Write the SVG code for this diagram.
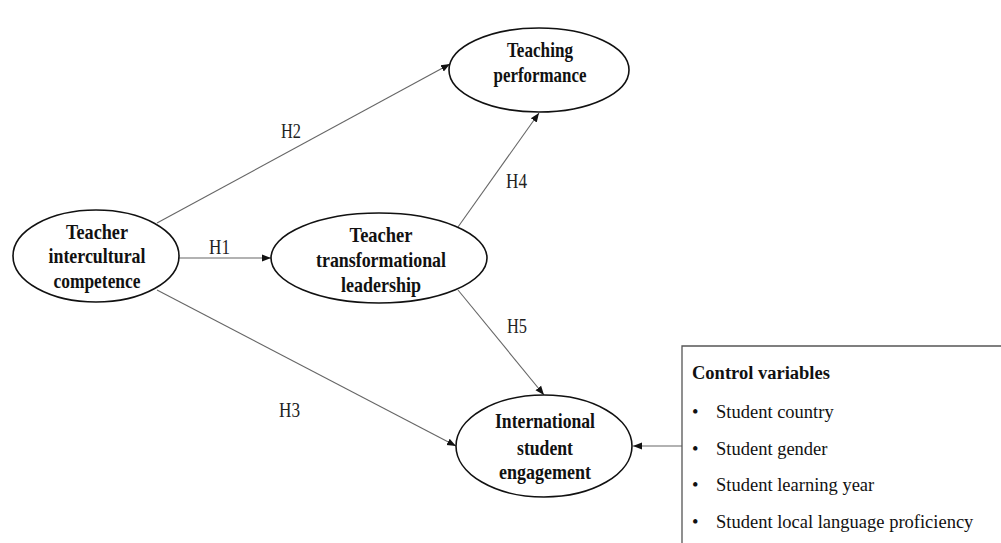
<svg xmlns="http://www.w3.org/2000/svg" width="1001" height="543" viewBox="0 0 1001 543">
<style>
.node ellipse{fill:#fff;stroke:#111;stroke-width:1.6}
.nt{font-family:"Liberation Serif","Times New Roman",serif;font-weight:bold;font-size:22px;fill:#111;text-anchor:middle}
.lbl{font-family:"Liberation Serif","Times New Roman",serif;font-size:20px;fill:#222}
.conn line{stroke:#666;stroke-width:1.1;fill:none}
.bx{font-family:"Liberation Serif","Times New Roman",serif;font-size:18.5px;fill:#111}
</style>
<defs>
<marker id="ah" viewBox="0 0 10 10" refX="10" refY="5" markerWidth="9" markerHeight="9" markerUnits="userSpaceOnUse" orient="auto">
<path d="M0,1 L10,5 L0,9 Z" fill="#111"/>
</marker>
</defs>
<rect width="1001" height="543" fill="#fff"/>
<g class="conn" id="connectors">
<line x1="179" y1="258" x2="271" y2="258" marker-end="url(#ah)"/>
<line x1="157" y1="223" x2="450" y2="64" marker-end="url(#ah)"/>
<line x1="157" y1="290" x2="456" y2="446" marker-end="url(#ah)"/>
<line x1="458" y1="227" x2="539" y2="113" marker-end="url(#ah)"/>
<line x1="458" y1="290" x2="544" y2="395" marker-end="url(#ah)"/>
<line x1="682" y1="446" x2="633" y2="446" marker-end="url(#ah)"/>
</g>
<g id="labels">
<text class="lbl" x="209" y="254" textLength="21" lengthAdjust="spacingAndGlyphs">H1</text>
<text class="lbl" x="281" y="138" textLength="20" lengthAdjust="spacingAndGlyphs">H2</text>
<text class="lbl" x="279" y="417" textLength="21" lengthAdjust="spacingAndGlyphs">H3</text>
<text class="lbl" x="506" y="188" textLength="21" lengthAdjust="spacingAndGlyphs">H4</text>
<text class="lbl" x="507" y="333" textLength="20" lengthAdjust="spacingAndGlyphs">H5</text>
</g>
<g class="node" id="n-tic">
<ellipse cx="96" cy="256" rx="83" ry="46"/>
<text class="nt" x="97" y="239" textLength="62" lengthAdjust="spacingAndGlyphs">Teacher</text>
<text class="nt" x="97" y="263" textLength="97" lengthAdjust="spacingAndGlyphs">intercultural</text>
<text class="nt" x="97" y="288" textLength="87" lengthAdjust="spacingAndGlyphs">competence</text>
</g>
<g class="node" id="n-tp">
<ellipse cx="539" cy="70" rx="90" ry="42"/>
<text class="nt" x="540" y="57" textLength="66" lengthAdjust="spacingAndGlyphs">Teaching</text>
<text class="nt" x="540" y="82" textLength="93" lengthAdjust="spacingAndGlyphs">performance</text>
</g>
<g class="node" id="n-ttl">
<ellipse cx="379" cy="258" rx="108" ry="45"/>
<text class="nt" x="381" y="242" textLength="63" lengthAdjust="spacingAndGlyphs">Teacher</text>
<text class="nt" x="381" y="267" textLength="130" lengthAdjust="spacingAndGlyphs">transformational</text>
<text class="nt" x="381" y="292" textLength="80" lengthAdjust="spacingAndGlyphs">leadership</text>
</g>
<g class="node" id="n-ise">
<ellipse cx="544" cy="446" rx="88" ry="51"/>
<text class="nt" x="545" y="428" textLength="100" lengthAdjust="spacingAndGlyphs">International</text>
<text class="nt" x="545" y="455" textLength="56" lengthAdjust="spacingAndGlyphs">student</text>
<text class="nt" x="545" y="479" textLength="92" lengthAdjust="spacingAndGlyphs">engagement</text>
</g>
<g id="n-control">
<path d="M1001,346 H682 V543" fill="none" stroke="#555" stroke-width="1.3"/>
<text class="bx" x="692" y="379" font-weight="bold" font-size="18px">Control variables</text>
<text class="bx" x="692" y="418">•</text>
<text class="bx" x="716" y="418">Student country</text>
<text class="bx" x="692" y="455">•</text>
<text class="bx" x="716" y="455">Student gender</text>
<text class="bx" x="692" y="491">•</text>
<text class="bx" x="716" y="491">Student learning year</text>
<text class="bx" x="692" y="528">•</text>
<text class="bx" x="716" y="528">Student local language proficiency</text>
</g>
</svg>
